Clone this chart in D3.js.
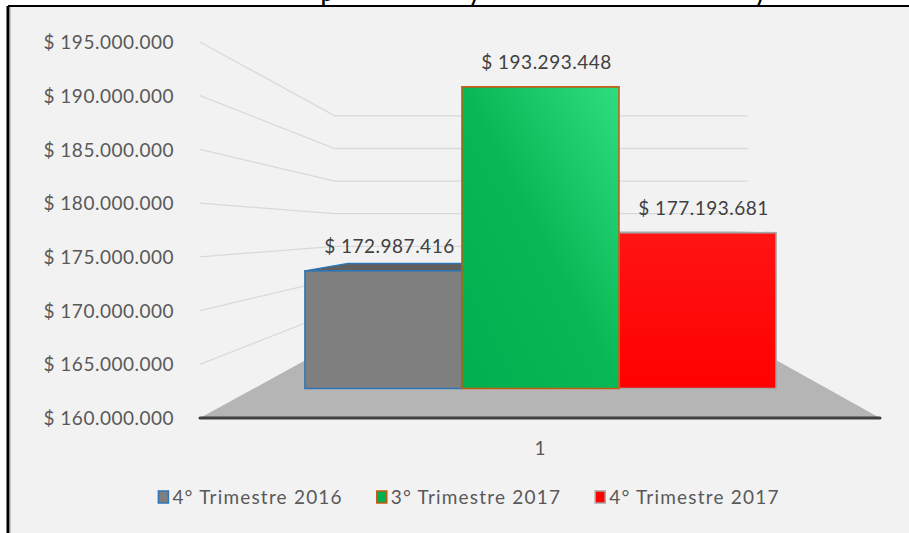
<!DOCTYPE html>
<html>
<head>
<meta charset="utf-8">
<script src="https://cdn.jsdelivr.net/npm/d3@7"></script>
<style>
  body { margin: 0; background: #ffffff; }
  svg { display: block; font-family: Lato, "Open Sans", sans-serif; }
  .tick text { fill: #595959; font-size: 19px; letter-spacing: 0.5px; }
  .data-label { fill: #404040; font-size: 19px; letter-spacing: 0.5px; text-anchor: middle; }
  .legend text { fill: #595959; font-size: 19px; letter-spacing: 1.2px; }
</style>
</head>
<body>
<svg width="909" height="533"></svg>
<script>
const series = ['4° Trimestre 2016', '3° Trimestre 2017', '4° Trimestre 2017'];
const values = [172987416, 193293448, 177193681];
const categories = ['1'];
const tickValues = [160000000, 165000000, 170000000, 175000000, 180000000, 185000000, 190000000, 195000000];
const fills = ['#7f7f7f', 'url(#greenGrad)', 'url(#redGrad)'];
const strokes = ['#2e75b6', '#c55a11', '#a5a5a5'];
const topFills = ['#5f5f5f', '#00a94d', '#e00000'];

const svg = d3.select('svg');
const width = +svg.attr('width');
const height = +svg.attr('height');

// frame
svg.append('rect').attr('x', 9).attr('y', 7).attr('width', width - 9).attr('height', height - 7).attr('fill', '#f2f2f2');
svg.append('line').attr('x1', 8).attr('x2', width).attr('y1', 6).attr('y2', 6).attr('stroke', '#000').attr('stroke-width', 2);
svg.append('line').attr('x1', 8).attr('x2', 8).attr('y1', 6).attr('y2', height).attr('stroke', '#000').attr('stroke-width', 3);
svg.append('line').attr('x1', 10).attr('x2', 10).attr('y1', 7).attr('y2', height).attr('stroke', '#9a9a9a').attr('stroke-width', 1);

// title, cut off by the top of the picture (as in the source)
const title = svg.append('text').attr('y', 1).attr('font-size', 20).attr('font-weight', 'bold').attr('fill', '#000')
  .attr('font-family', 'Lato, sans-serif');
title.append('tspan').attr('x', 321).text('p');
title.append('tspan').attr('x', 469).text('y');
title.append('tspan').attr('x', 755).text('y');

const defs = svg.append('defs');
const gg = defs.append('linearGradient').attr('id', 'greenGrad').attr('x1', 0).attr('y1', 1).attr('x2', 1).attr('y2', 0);
gg.append('stop').attr('offset', '0%').attr('stop-color', '#00b050');
gg.append('stop').attr('offset', '50%').attr('stop-color', '#08b856');
gg.append('stop').attr('offset', '100%').attr('stop-color', '#2edd7f');
const rg = defs.append('linearGradient').attr('id', 'redGrad').attr('x1', 0).attr('y1', 1).attr('x2', 0).attr('y2', 0);
rg.append('stop').attr('offset', '0%').attr('stop-color', '#ff0000');
rg.append('stop').attr('offset', '100%').attr('stop-color', '#ff1414');

// perspective set-up: front plane scales, vanishing point, depth factors
const yScale = d3.scaleLinear().domain([160000000, 195000000]).range([418, 42]);
const xFront = [200, 880];
const vp = {x: 543, y: 230};
const sBack = 0.607, sBarFront = 0.843, sBarBack = 0.69;
const proj = (X, v, s) => [vp.x + (X - vp.x) * s, vp.y + (yScale(v) - vp.y) * s];

const xBand = d3.scaleBand().domain(series).range(xFront).paddingInner(0).paddingOuter(0.325);

// floor
const v0 = yScale.domain()[0];
const floorPts = [proj(xFront[0], v0, 1), proj(xFront[1], v0, 1), proj(xFront[1], v0, sBack), proj(xFront[0], v0, sBack)];
svg.append('path').attr('d', 'M' + floorPts.join('L') + 'Z').attr('fill', '#b5b5b5');

// gridlines on side and back walls
svg.append('g').selectAll('path').data(tickValues.slice(1)).join('path')
  .attr('d', v => 'M' + [proj(xFront[0], v, 1), proj(xFront[0], v, sBack), proj(xFront[1], v, sBack)].join('L'))
  .attr('fill', 'none').attr('stroke', '#d9d9d9').attr('stroke-width', 1.3);

// front axis line
svg.append('line').attr('x1', xFront[0]).attr('x2', xFront[1]).attr('y1', yScale(v0)).attr('y2', yScale(v0))
  .attr('stroke', '#404040').attr('stroke-width', 3).attr('stroke-linecap', 'round');

// y axis labels
const loc = d3.formatLocale({decimal: ',', thousands: '.', grouping: [3], currency: ['$ ', '']});
const fmt = v => '$ ' + loc.format(',.0f')(v);
const yAxis = d3.axisLeft(yScale).tickValues(tickValues).tickSize(0).tickPadding(26).tickFormat(fmt);
const yAxisG = svg.append('g').attr('transform', `translate(${xFront[0]},0)`).call(yAxis);
yAxisG.select('.domain').remove();
yAxisG.selectAll('text').attr('font-family', 'Lato, sans-serif').attr('font-size', 19).attr('dy', '0.35em');

// bars: top face then front face; green last so it covers neighbours' tops
const order = [0, 2, 1];
const barsG = svg.append('g');
order.forEach(i => {
  const s = series[i];
  const xl = xBand(s), xr = xBand(s) + xBand.bandwidth();
  const v = values[i];
  const top = [proj(xl, v, sBarFront), proj(xr, v, sBarFront), proj(xr, v, sBarBack), proj(xl, v, sBarBack)];
  barsG.append('path').attr('d', 'M' + top.join('L') + 'Z')
    .attr('fill', topFills[i]).attr('stroke', strokes[i]).attr('stroke-width', 1.5).attr('stroke-linejoin', 'round');
  const f0 = proj(xl, v, sBarFront), f1 = proj(xr, v0, sBarFront);
  barsG.append('rect').attr('x', f0[0]).attr('y', f0[1]).attr('width', f1[0] - f0[0]).attr('height', f1[1] - f0[1])
    .attr('fill', fills[i]).attr('stroke', strokes[i]).attr('stroke-width', 1.5);
});

// data labels
svg.append('g').selectAll('text').data(series).join('text')
  .attr('class', 'data-label')
  .attr('x', (s, i) => proj(xBand(s) + xBand.bandwidth() / 2, values[i], sBarFront)[0] + 6)
  .attr('y', (s, i) => proj(xBand(s), values[i], sBarFront)[1] - 18)
  .text((s, i) => fmt(values[i]));

// category label
svg.append('g').selectAll('text').data(categories).join('text')
  .attr('x', (xFront[0] + xFront[1]) / 2).attr('y', yScale(v0) + 37)
  .attr('text-anchor', 'middle').attr('fill', '#595959').attr('font-size', 19).text(d => d);

// legend
const legendG = svg.append('g').attr('class', 'legend');
const items = legendG.selectAll('g').data(series).join('g');
items.append('rect').attr('x', 0).attr('y', -6).attr('width', 10).attr('height', 12)
  .attr('fill', (d, i) => ['#7f7f7f', '#00b050', '#ff0000'][i]).attr('stroke', (d, i) => strokes[i]).attr('stroke-width', 1.5);
items.append('text').attr('x', 14).attr('dy', '0.35em').text(d => d);
let xPos = 0;
const gap = 34;
items.each(function () {
  const w = 14 + d3.select(this).select('text').node().getComputedTextLength();
  d3.select(this).attr('transform', `translate(${xPos},0)`);
  xPos += w + gap;
});
const total = xPos - gap;
legendG.attr('transform', `translate(${469 - total / 2},497)`);
</script>
</body>
</html>
